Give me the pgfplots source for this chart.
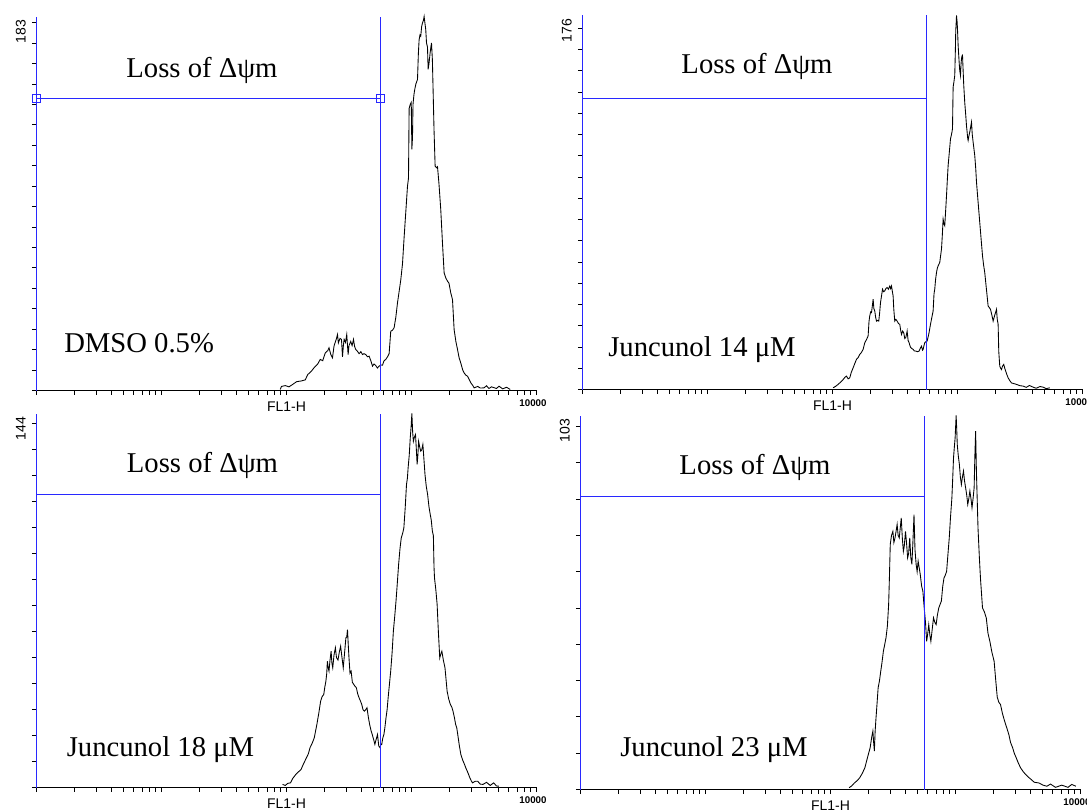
\documentclass[border=0pt]{standalone}
\usepackage{fontspec}
\setmainfont{Liberation Serif}
\newfontfamily\axisfont{Liberation Sans}
\usepackage{pgfplots}
\usepackage{pgfplotstable}
\pgfplotsset{compat=1.18}
\definecolor{gateblue}{RGB}{40,40,255}

% FL1-H histograms: column dec = log10(FL1-H), column count = events per channel
\pgfplotstableread{
dec count
1.950 0.5
1.960 2.0
1.990 2.4
2.020 1.8
2.050 3.0
2.080 4.3
2.120 4.7
2.150 5.2
2.170 7.8
2.200 9.5
2.220 11.1
2.250 13.0
2.270 15.2
2.290 14.6
2.310 18.4
2.330 19.5
2.340 20.9
2.355 17.5
2.368 16.0
2.380 21.7
2.400 25.5
2.408 27.4
2.415 23.3
2.428 25.5
2.440 25.0
2.448 16.5
2.455 22.0
2.461 25.0
2.472 23.5
2.482 27.4
2.493 17.6
2.500 22.0
2.514 24.0
2.525 22.0
2.536 25.0
2.545 21.5
2.554 20.1
2.570 19.0
2.581 18.0
2.595 19.0
2.608 17.6
2.620 18.0
2.634 17.6
2.648 16.5
2.661 16.8
2.675 14.5
2.688 11.9
2.700 13.0
2.714 12.2
2.727 11.0
2.741 11.9
2.755 12.5
2.768 12.4
2.780 14.5
2.794 15.2
2.808 16.5
2.821 18.0
2.834 29.0
2.848 29.5
2.861 30.7
2.875 36.0
2.888 42.9
2.900 48.0
2.914 54.0
2.928 62.0
2.941 75.0
2.955 88.0
2.968 100.0
2.976 104.0
2.981 138.0
2.990 140.0
2.998 141.0
3.003 118.0
3.008 124.0
3.012 140.0
3.020 145.0
3.026 147.3
3.035 150.0
3.048 152.2
3.055 165.0
3.061 171.7
3.068 174.0
3.074 173.4
3.081 178.0
3.088 179.9
3.095 181.0
3.101 183.0
3.107 180.0
3.114 176.6
3.120 170.1
3.128 168.0
3.133 157.1
3.140 160.0
3.149 165.2
3.155 168.0
3.160 170.1
3.167 162.0
3.173 146.5
3.180 128.0
3.189 109.8
3.200 109.0
3.208 109.5
3.220 101.0
3.234 88.6
3.248 72.0
3.261 57.6
3.275 55.0
3.288 53.5
3.300 52.5
3.314 47.8
3.328 44.5
3.341 29.8
3.355 24.0
3.368 20.1
3.381 16.0
3.394 13.5
3.410 10.0
3.421 8.6
3.435 7.5
3.448 7.0
3.465 5.0
3.474 3.8
3.490 2.5
3.501 1.3
3.530 2.0
3.550 1.2
3.580 1.3
3.600 2.3
3.620 1.0
3.640 1.8
3.680 1.0
3.700 2.1
3.730 0.8
3.760 1.6
3.790 0.5
}\dmso

\pgfplotstableread{
dec count
2.005 0.8
2.025 1.5
2.045 2.4
2.065 3.5
2.085 4.7
2.100 5.8
2.112 6.3
2.125 5.0
2.138 5.5
2.150 8.0
2.165 10.2
2.180 12.5
2.192 14.2
2.205 15.0
2.218 16.5
2.232 17.5
2.245 18.9
2.258 22.0
2.272 23.5
2.285 25.2
2.292 32.0
2.298 34.6
2.305 36.5
2.312 36.2
2.318 39.0
2.325 42.5
2.331 38.0
2.338 37.0
2.345 34.0
2.352 32.2
2.360 32.5
2.370 32.2
2.377 36.0
2.384 40.9
2.392 44.0
2.400 47.2
2.409 46.0
2.418 46.4
2.427 47.5
2.437 48.0
2.447 47.2
2.458 48.7
2.465 47.5
2.472 48.7
2.478 46.5
2.485 44.0
2.490 38.0
2.498 32.2
2.507 33.0
2.517 32.2
2.528 31.0
2.538 30.7
2.545 28.0
2.552 25.9
2.561 27.5
2.570 26.7
2.578 24.0
2.586 24.4
2.592 26.0
2.597 27.5
2.605 23.0
2.613 22.0
2.620 20.5
2.626 19.7
2.636 19.2
2.645 18.9
2.655 18.1
2.666 18.1
2.680 17.8
2.693 18.1
2.703 19.5
2.712 20.4
2.720 18.5
2.725 18.9
2.731 20.5
2.738 22.0
2.747 22.5
2.757 22.8
2.770 26.0
2.784 30.7
2.795 34.0
2.805 37.0
2.812 45.0
2.818 47.2
2.825 52.0
2.832 55.0
2.838 57.0
2.845 58.2
2.858 59.8
2.865 63.0
2.872 66.1
2.878 72.0
2.885 80.2
2.892 78.0
2.898 77.1
2.905 84.0
2.912 91.2
2.918 98.0
2.925 105.4
2.935 112.0
2.944 118.0
2.952 120.0
2.960 122.7
2.963 135.0
2.965 142.3
2.972 145.0
2.978 147.8
2.983 160.0
2.986 169.1
2.989 172.0
2.992 176.0
2.995 174.0
2.997 173.0
3.001 168.0
3.005 162.0
3.009 158.0
3.013 154.1
3.018 150.0
3.024 147.8
3.028 153.0
3.032 155.7
3.036 157.0
3.040 157.3
3.045 150.0
3.050 143.1
3.058 135.0
3.066 129.0
3.072 124.0
3.077 121.1
3.082 118.0
3.085 117.2
3.090 119.0
3.098 121.1
3.105 123.5
3.112 125.8
3.118 120.0
3.125 116.4
3.132 113.0
3.138 110.1
3.146 103.8
3.152 97.5
3.165 88.0
3.178 78.6
3.190 70.0
3.200 62.9
3.209 58.5
3.218 55.0
3.230 48.0
3.245 39.3
3.255 38.5
3.264 37.7
3.275 35.0
3.285 32.2
3.298 35.0
3.312 37.7
3.318 33.0
3.325 30.7
3.330 18.0
3.338 11.0
3.345 10.0
3.352 9.4
3.360 11.0
3.370 11.8
3.378 10.0
3.386 8.6
3.395 7.0
3.405 5.5
3.418 4.2
3.432 3.1
3.450 2.8
3.472 2.4
3.500 1.8
3.525 1.6
3.550 1.0
3.575 1.9
3.605 1.1
3.630 0.6
3.660 1.4
3.685 1.1
3.710 0.4
3.738 0.8
}\juncA

\pgfplotstableread{
dec count
1.969 1.2
1.990 0.8
2.010 1.6
2.032 1.8
2.050 3.5
2.074 5.0
2.095 6.0
2.116 6.9
2.135 9.0
2.159 11.4
2.175 13.0
2.188 15.3
2.205 17.0
2.222 19.1
2.243 24.3
2.258 28.5
2.273 33.2
2.285 35.0
2.298 35.8
2.306 38.5
2.315 40.9
2.322 44.0
2.327 48.6
2.334 46.0
2.340 44.8
2.348 49.0
2.357 52.5
2.363 48.0
2.370 46.1
2.380 51.0
2.391 53.8
2.400 50.0
2.412 49.1
2.422 52.0
2.433 54.4
2.444 50.0
2.454 46.1
2.465 52.0
2.475 57.6
2.482 58.0
2.488 60.8
2.494 55.0
2.500 49.9
2.508 44.0
2.517 44.8
2.527 40.5
2.538 39.7
2.548 39.0
2.559 38.4
2.570 36.0
2.581 34.5
2.590 33.5
2.602 32.0
2.612 30.0
2.623 29.4
2.634 30.0
2.644 30.7
2.655 27.0
2.665 24.3
2.676 22.0
2.686 20.4
2.697 18.5
2.707 16.6
2.717 18.5
2.728 20.4
2.738 16.0
2.749 15.3
2.755 16.6
2.762 16.6
2.770 19.0
2.779 20.4
2.787 23.0
2.796 26.8
2.805 30.0
2.813 34.5
2.824 40.0
2.834 45.0
2.845 52.0
2.855 60.2
2.866 66.0
2.876 71.7
2.887 79.0
2.897 85.9
2.908 92.0
2.918 96.1
2.930 98.0
2.939 100.0
2.950 108.0
2.960 116.7
2.967 119.0
2.973 123.1
2.982 128.0
2.990 134.6
2.997 139.0
3.003 144.0
3.009 137.0
3.015 133.3
3.024 135.0
3.032 135.9
3.039 130.0
3.045 124.4
3.051 128.0
3.057 133.3
3.066 131.0
3.074 129.5
3.082 130.0
3.091 132.1
3.100 126.0
3.108 120.5
3.118 116.0
3.129 112.8
3.140 108.0
3.150 105.1
3.158 103.0
3.167 98.7
3.175 97.0
3.180 85.0
3.184 80.7
3.195 76.0
3.205 70.5
3.215 60.0
3.226 49.9
3.235 51.5
3.243 52.5
3.255 49.0
3.268 46.1
3.285 37.1
3.298 34.0
3.311 32.0
3.322 31.0
3.332 29.4
3.343 27.0
3.353 24.3
3.362 23.0
3.370 20.4
3.383 16.0
3.395 12.7
3.410 10.5
3.424 8.9
3.435 7.5
3.446 6.3
3.457 5.0
3.467 3.7
3.478 2.6
3.488 1.8
3.510 2.4
3.530 2.4
3.550 1.3
3.572 1.2
3.600 2.0
3.630 0.8
3.657 1.8
3.680 0.6
3.699 0.5
}\juncB

\pgfplotstableread{
dec count
2.149 0.5
2.170 1.0
2.191 1.8
2.212 2.4
2.233 3.2
2.255 4.5
2.275 6.0
2.296 8.8
2.317 11.5
2.330 14.5
2.339 16.1
2.345 13.0
2.351 10.6
2.357 16.0
2.364 19.7
2.372 23.5
2.381 28.0
2.392 30.0
2.402 32.6
2.412 35.0
2.423 38.1
2.434 40.0
2.444 41.8
2.455 45.0
2.465 50.9
2.471 58.0
2.478 67.5
2.488 70.0
2.499 71.1
2.507 68.0
2.516 69.3
2.524 71.0
2.533 73.0
2.541 70.0
2.550 69.3
2.558 72.0
2.566 74.8
2.575 69.0
2.583 65.6
2.590 67.0
2.600 71.1
2.608 68.0
2.617 63.8
2.625 65.0
2.634 69.3
2.642 64.0
2.651 62.0
2.659 68.0
2.668 75.7
2.676 66.0
2.685 62.0
2.693 60.0
2.701 62.9
2.710 61.0
2.718 59.2
2.729 56.0
2.739 54.6
2.745 52.0
2.752 49.1
2.760 46.0
2.769 40.8
2.778 43.0
2.786 45.4
2.795 42.5
2.803 40.8
2.810 43.0
2.824 47.3
2.835 46.0
2.845 45.4
2.855 48.0
2.866 50.0
2.877 51.0
2.887 51.9
2.898 56.0
2.908 58.3
2.918 59.0
2.929 60.1
2.940 65.0
2.950 69.3
2.960 75.0
2.971 80.3
2.978 86.0
2.984 91.3
2.990 94.0
2.997 96.9
3.005 103.0
3.010 99.0
3.014 95.0
3.022 92.0
3.031 89.5
3.039 86.0
3.047 84.0
3.055 86.0
3.064 87.7
3.072 85.0
3.081 83.1
3.090 81.0
3.098 78.5
3.106 80.0
3.115 82.2
3.124 80.0
3.132 77.6
3.140 80.0
3.149 83.1
3.155 92.0
3.161 98.7
3.167 88.0
3.174 79.4
3.180 72.0
3.191 63.8
3.200 58.0
3.216 50.0
3.230 49.0
3.246 47.3
3.260 43.0
3.275 40.8
3.290 38.0
3.309 35.3
3.322 30.0
3.334 25.4
3.347 24.0
3.360 23.4
3.375 21.0
3.393 18.8
3.410 17.0
3.427 15.1
3.440 13.0
3.457 11.5
3.470 10.0
3.486 8.7
3.500 7.5
3.520 6.0
3.540 5.0
3.562 4.1
3.580 3.5
3.604 2.8
3.630 2.0
3.668 1.8
3.700 1.2
3.731 0.9
3.760 1.5
3.800 0.6
3.850 1.2
3.900 0.6
3.930 1.4
3.963 0.9
}\juncC

% 1 px of the final picture = 0.75pt; the blue gate lines are 1 px wide and
% sit on whole pixel columns/rows
\pgfplotsset{
  flowaxis/.style={
    scale only axis, width=375pt, height=280.5pt,
    anchor=south west,
    xmin=1, xmax=10000, ymin=0,
    axis x line=bottom, axis y line=left,
    x axis line style={-, draw=black, line width=0.75pt},
    y axis line style={-, draw=gateblue, line width=0.75pt},
    xtick={1,10,100,1000,10000},
    minor xtick={2,3,...,9,20,30,...,90,200,300,...,900,2000,3000,...,9000},
    ytick distance=10,
    xticklabels={}, yticklabels={},
    tick align=outside,
    major tick length=3.4pt, minor tick length=3pt,
    tick style={draw=black, line width=0.6pt},
    clip=false,
  },
  flowcurve/.style={draw=black, line width=0.65pt, mark=none},
  flowgate/.style={draw=gateblue, line width=0.75pt, mark=none},
}
\tikzset{
  biglab/.style={font=\fontsize{21.5}{24}\selectfont, inner sep=0pt},
  maxlab/.style={font=\axisfont\fontsize{10.5}{11}\selectfont, rotate=90, anchor=east, inner sep=0pt},
  chlab/.style={font=\axisfont\fontsize{10.5}{11}\selectfont, inner sep=0pt},
  endlab/.style={font=\axisfont\bfseries\fontsize{7.3}{8}\selectfont, inner sep=0pt},
}

\begin{document}
\begin{tikzpicture}
\useasboundingbox (0,0) rectangle (815.25pt,-607.5pt);

% ---- DMSO 0.5% ----
\begin{axis}[xmode=log, flowaxis, at={(27.375pt,-292.875pt)}, ymax=183]
  \addplot[flowcurve] table[x expr=10^\thisrow{dec}, y=count] {\dmso};
  \addplot[flowgate] coordinates {(565,0) (565,183)};
  \addplot[flowgate] coordinates {(1,142.88) (565,142.88)};
  \addplot[draw=none, only marks, mark=square, mark size=3pt, mark options={draw=gateblue, fill=none, line width=0.8pt}] coordinates {(1,142.88) (565,142.88)};
  \node[biglab, anchor=base] at (rel axis cs:0.331,0.837) {Loss of Δψm};
  \node[biglab, anchor=base west] at (rel axis cs:0.055,0.102) {DMSO 0.5\%};
  \node[maxlab] at ([shift={(-11.8pt,-2.3pt)}]rel axis cs:0,1) {183};
  \node[chlab] at ([shift={(0pt,-11.8pt)}]rel axis cs:0.5,0) {FL1-H};
  \node[endlab] at ([shift={(0pt,-9.2pt)}]rel axis cs:0.993,0) {10000};
\end{axis}

% ---- Juncunol 14 uM ----
\begin{axis}[xmode=log, flowaxis, at={(436.875pt,-292.125pt)}, ymax=176]
  \addplot[flowcurve] table[x expr=10^\thisrow{dec}, y=count] {\juncA};
  \addplot[flowgate] coordinates {(565,0) (565,176)};
  \addplot[flowgate] coordinates {(1,136.94) (565,136.94)};
  \node[biglab, anchor=base] at (rel axis cs:0.349,0.845) {Loss of Δψm};
  \node[biglab, anchor=base west] at (rel axis cs:0.051,0.088) {Juncunol 14 μM};
  \node[maxlab] at ([shift={(-11.8pt,-2.3pt)}]rel axis cs:0,1) {176};
  \node[chlab] at ([shift={(0pt,-11.8pt)}]rel axis cs:0.5,0) {FL1-H};
  \node[endlab] at ([shift={(0pt,-9.2pt)}]rel axis cs:0.993,0) {10000};
\end{axis}

% ---- Juncunol 18 uM ----
\begin{axis}[xmode=log, flowaxis, at={(27.375pt,-590.625pt)}, ymax=144]
  \addplot[flowcurve] table[x expr=10^\thisrow{dec}, y=count] {\juncB};
  \addplot[flowgate] coordinates {(565,0) (565,144)};
  \addplot[flowgate] coordinates {(1,112.81) (565,112.81)};
  \node[biglab, anchor=base] at (rel axis cs:0.332,0.842) {Loss of Δψm};
  \node[biglab, anchor=base west] at (rel axis cs:0.06,0.083) {Juncunol 18 μM};
  \node[maxlab] at ([shift={(-11.8pt,-2.3pt)}]rel axis cs:0,1) {144};
  \node[chlab] at ([shift={(0pt,-11.8pt)}]rel axis cs:0.5,0) {FL1-H};
  \node[endlab] at ([shift={(0pt,-9.2pt)}]rel axis cs:0.993,0) {10000};
\end{axis}

% ---- Juncunol 23 uM ----
\begin{axis}[xmode=log, flowaxis, at={(435.375pt,-592.125pt)}, ymax=103]
  \addplot[flowcurve] table[x expr=10^\thisrow{dec}, y=count] {\juncC};
  \addplot[flowgate] coordinates {(565,0) (565,103)};
  \addplot[flowgate] coordinates {(1,80.69) (565,80.69)};
  \node[biglab, anchor=base] at (rel axis cs:0.349,0.842) {Loss of Δψm};
  \node[biglab, anchor=base west] at (rel axis cs:0.079,0.088) {Juncunol 23 μM};
  \node[maxlab] at ([shift={(-11.8pt,-2.3pt)}]rel axis cs:0,1) {103};
  \node[chlab] at ([shift={(0pt,-11.8pt)}]rel axis cs:0.5,0) {FL1-H};
  \node[endlab] at ([shift={(0pt,-9.2pt)}]rel axis cs:0.993,0) {10000};
\end{axis}
\end{tikzpicture}
\end{document}
